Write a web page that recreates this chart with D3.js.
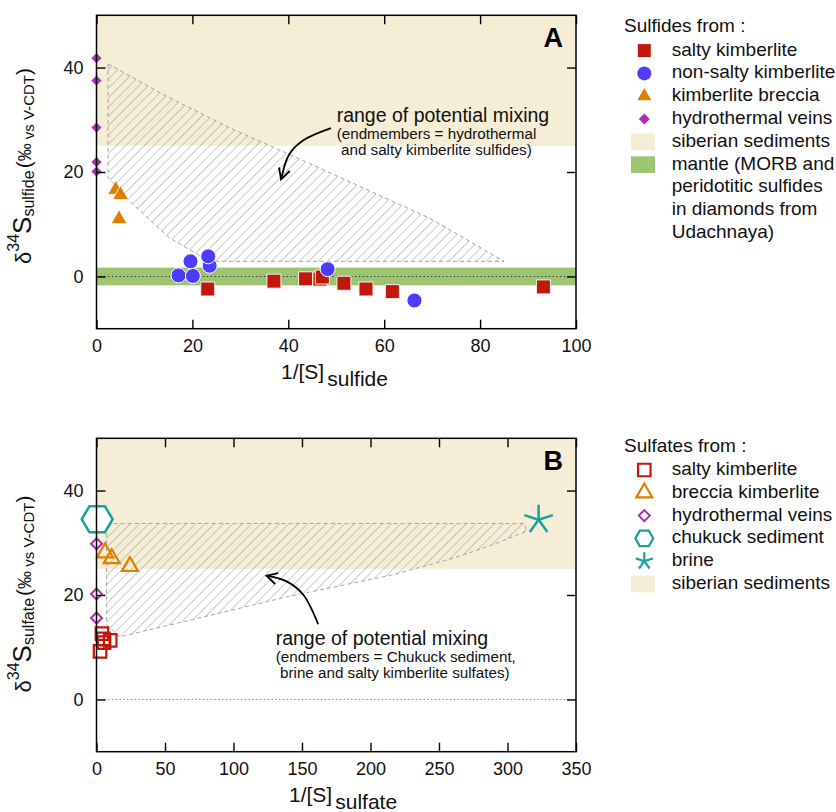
<!DOCTYPE html>
<html><head><meta charset="utf-8">
<script src="https://cdn.jsdelivr.net/npm/d3@7"></script>
<style>
body{margin:0;background:#fff}
svg{display:block;font-family:"Liberation Sans",Arial,Helvetica,sans-serif}
</style>
</head><body>
<svg id="chart" width="836" height="812"></svg>
<script>
// ---------------- DATA ----------------
const yDomain = [-10, 50];
const yTicks = [0, 20, 40];
const xTicksA = [0, 20, 40, 60, 80, 100];
const xTicksB = [0, 50, 100, 150, 200, 250, 300, 350];
const sedimentRange = [25, 50];
const mantleRange = [-1.7, 1.7];

// Panel A : sulfides  [1/[S], d34S]
const saltyKimberliteA = [[23.2,-2.4],[37.0,-0.9],[43.6,-0.45],[46.6,-0.5],[47.1,-0.1],[51.6,-1.3],[56.2,-2.4],[61.7,-2.9],[93.2,-2.0]];
const nonSaltyKimberliteA = [[17.1,0.2],[20.1,0.1],[19.6,2.9],[23.6,2.05],[23.3,3.85],[48.2,1.4],[66.3,-4.6]];
const kimberliteBrecciaA = [[4.0,16.6],[5.0,15.6],[4.7,11.0]];
const hydrothermalVeinsA = [[0,41.8],[0,37.5],[0,28.5],[0,21.9],[0,20.1]];
const mixingZoneA = [[2.4,40.7],[13.8,34.9],[27.7,28.5],[41.6,22.8],[55.5,17.0],[69.4,11.2],[85,2.9],[23.5,2.9],[15.2,7.4],[7.6,13.8],[2.4,18.9]];
const arrowA = [[48.9,28.4],[43.0,26.0],[40.2,23.4],[38.5,18.6]];

// Panel B : sulfates
const saltyKimberliteB = [[4.0,12.6],[5.0,11.6],[10.0,11.3],[5.5,10.9],[2.6,9.2]];
const brecciaKimberliteB = [[6.2,28.1],[11.1,27.0],[24.4,25.5]];
const hydrothermalVeinsB = [[0,29.8],[0,20.2],[0,15.6]];
const chukuckSedimentB = [[0.5,34.5]];
const brineB = [[322.7,34.4]];
const mixingZoneB = [[7.4,33.7],[312.5,33.7],[313.8,32.2],[290,29.7],[260,27.0],[215,23.8],[140,19.7],[70,15.3],[17.1,12.0],[7.4,14.3]];
const arrowB = [[161.8,14.4],[150.8,20.1],[138.7,22.6],[124.1,23.7]];

// ---------------- STYLE ----------------
const C = {
  red:"#c0180a", blue:"#4d3bff", orange:"#dd8000", purple:"#b02db5",
  teal:"#17a39b", sed:"#f6edd7", mantle:"#9dc470"
};
const FONT = '"Liberation Sans",Arial,Helvetica,sans-serif';
const L = 96.5, R = 576;

const svg = d3.select("#chart");
const defs = svg.append("defs");
const pat = defs.append("pattern").attr("id","hatch")
  .attr("patternUnits","userSpaceOnUse").attr("width",6.6).attr("height",6.6)
  .attr("patternTransform","rotate(45)");
pat.append("line").attr("x1",0).attr("y1",0).attr("x2",0).attr("y2",6.6)
  .attr("stroke","#8e8e8e").attr("stroke-width",0.9);

// ---------------- SYMBOLS ----------------
const sym = {
  square: s => `M${-s/2},${-s/2}h${s}v${s}h${-s}Z`,
  triangle: w => { const h=w*0.866; return `M0,${-2*h/3}L${w/2},${h/3}L${-w/2},${h/3}Z`; },
  diamond: r => `M0,${-r}L${r},0L0,${r}L${-r},0Z`,
  hexagon: (w,h) => `M${-w/2},0L${-w/4},${-h/2}L${w/4},${-h/2}L${w/2},0L${w/4},${h/2}L${-w/4},${h/2}Z`,
  star: r => d3.range(5).map(k=>{const a=(-90+k*72)*Math.PI/180;return `M0,0L${r*Math.cos(a)},${r*Math.sin(a)}`;}).join(""),
  circle: r => `M${r},0A${r},${r} 0 1,1 ${-r},0A${r},${r} 0 1,1 ${r},0Z`
};

function drawMarkers(g, data, x, y, path, fill, stroke, sw) {
  g.selectAll(null).data(data).enter().append("path")
    .attr("transform", d => `translate(${x(d[0])},${y(d[1])})`)
    .attr("d", path).attr("fill", fill).attr("stroke", stroke).attr("stroke-width", sw)
    .attr("stroke-linejoin","miter");
}

// ---------------- PANEL ----------------
function drawPanel(p) {
  const x = d3.scaleLinear().domain(p.xDomain).range([L, R]);
  const y = d3.scaleLinear().domain(yDomain).range([p.bottom, p.top]);
  const g = svg.append("g");

  // siberian sediments band
  g.append("rect").attr("x", x(p.xDomain[0])).attr("width", x(p.xDomain[1]) - x(p.xDomain[0]))
    .attr("y", y(sedimentRange[1])).attr("height", y(sedimentRange[0]) - y(sedimentRange[1]))
    .attr("fill", C.sed);
  // mantle band
  if (p.mantle) {
    g.append("rect").attr("x", x(p.xDomain[0])).attr("width", x(p.xDomain[1]) - x(p.xDomain[0]))
      .attr("y", y(mantleRange[1])).attr("height", y(mantleRange[0]) - y(mantleRange[1]))
      .attr("fill", C.mantle);
  }
  // zero line
  g.append("line").attr("x1", x(p.xDomain[0]) + 4).attr("x2", x(p.xDomain[1]) - 4)
    .attr("y1", y(0)).attr("y2", y(0))
    .attr("stroke", p.zeroColor).attr("stroke-width", 1).attr("stroke-dasharray", "1.2,2.6");

  // mixing zone
  const line = d3.line().x(d => x(d[0])).y(d => y(d[1]));
  g.append("path").attr("d", line(p.mix) + "Z")
    .attr("fill", "url(#hatch)").attr("stroke", "#a5a5a5").attr("stroke-width", 1)
    .attr("stroke-dasharray", "4,3");

  // markers
  p.markers(g, x, y);

  // arrow
  const curve = d3.line().x(d => x(d[0])).y(d => y(d[1])).curve(d3.curveCatmullRom.alpha(0.5));
  g.append("path").attr("d", curve(p.arrow)).attr("fill","none").attr("stroke","#000").attr("stroke-width",1.8);
  const n = p.arrow.length;
  const tip = [x(p.arrow[n-1][0]), y(p.arrow[n-1][1])];
  const prev = [x(p.arrow[n-2][0]), y(p.arrow[n-2][1])];
  const ang = Math.atan2(tip[1]-prev[1], tip[0]-prev[0]);
  const hl = 12, spread = 28*Math.PI/180;
  const head = [ang+Math.PI-spread, ang+Math.PI+spread].map(a => [tip[0]+hl*Math.cos(a), tip[1]+hl*Math.sin(a)]);
  g.append("path").attr("d", `M${head[0][0]},${head[0][1]}L${tip[0]},${tip[1]}L${head[1][0]},${head[1][1]}`)
    .attr("fill","none").attr("stroke","#000").attr("stroke-width",1.8);

  // annotation text
  const at = g.append("g").attr("fill","#111").attr("font-family",FONT);
  p.note.forEach(t => at.append("text").attr("x", t.x).attr("y", t.y).attr("font-size", t.s).text(t.text));

  // panel letter
  g.append("text").attr("x", R - 13).attr("y", p.top + 32).attr("text-anchor","end")
    .attr("font-size", 27).attr("font-weight","bold").attr("fill","#000").text(p.letter);

  // axes
  const styleAxis = a => {
    a.select(".domain").remove();
    a.attr("font-family", FONT).attr("font-size", 18);
    a.selectAll("line").attr("stroke","#000").attr("stroke-width",1.4);
    a.selectAll("text").attr("fill","#111");
  };
  g.append("g").attr("transform",`translate(0,${p.bottom})`)
    .call(d3.axisBottom(x).tickValues(p.xTicks).tickSize(-9).tickPadding(10.5)).call(styleAxis);
  g.append("g").attr("transform",`translate(0,${p.top})`)
    .call(d3.axisTop(x).tickValues(p.xTicks).tickSize(-9).tickFormat("")).call(styleAxis);
  g.append("g").attr("transform",`translate(${L},0)`)
    .call(d3.axisLeft(y).tickValues(yTicks).tickSize(-9).tickPadding(13)).call(styleAxis);
  g.append("g").attr("transform",`translate(${R},0)`)
    .call(d3.axisRight(y).tickValues(yTicks).tickSize(-9).tickFormat("")).call(styleAxis);

  // frame
  g.append("rect").attr("x", L).attr("y", p.top).attr("width", R - L).attr("height", p.bottom - p.top)
    .attr("fill","none").attr("stroke","#000").attr("stroke-width",1.5);

  // x title
  const xt = svg.append("text").attr("x", p.xTitleX).attr("y", p.bottom + 50.5)
    .attr("font-size", 21).attr("fill","#111");
  xt.append("tspan").text("1/[S]");
  xt.append("tspan").attr("dx", 3).attr("dy", 7).text(p.xSub);

  // y title
  const yt = svg.append("text").attr("transform", `translate(31,${p.yTitleCy}) rotate(-90)`)
    .attr("text-anchor","middle").attr("fill","#111");
  yt.append("tspan").attr("font-size",22).text("δ");
  yt.append("tspan").attr("font-size",16).attr("dy",-12).text("34");
  yt.append("tspan").attr("font-size",26).attr("dy",12).text("S");
  yt.append("tspan").attr("font-size",16).attr("dy",3).text(p.ySub);
  yt.append("tspan").attr("font-size",21).attr("dy",-3).attr("dx",2).text("(");
  yt.append("tspan").attr("font-size",18).text("‰");
  yt.append("tspan").attr("font-size",15).attr("dy",3).text(" vs V-CDT");
  yt.append("tspan").attr("font-size",21).attr("dy",-3).text(")");
}

drawPanel({
  top: 15.3, bottom: 328.7, xDomain: [0, 100], xTicks: xTicksA, mantle: true,
  zeroColor: "#222", mix: mixingZoneA, arrow: arrowA, letter: "A",
  xSub: "sulfide", ySub: "sulfide", xTitleX: 281, yTitleCy: 166,
  note: [
    {x: 336.7, y: 121.5, s: 19.5, text: "range of potential mixing"},
    {x: 336.7, y: 138.5, s: 15.2, text: "(endmembers = hydrothermal"},
    {x: 341, y: 154.5, s: 15.2, text: "and salty kimberlite sulfides)"}
  ],
  markers: (g, x, y) => {
    drawMarkers(g, saltyKimberliteA, x, y, sym.square(14), C.red, "#f4f0ec", 1);
    drawMarkers(g, nonSaltyKimberliteA, x, y, sym.circle(7.5), C.blue, "#fff", 1);
    drawMarkers(g, kimberliteBrecciaA, x, y, sym.triangle(16), C.orange, "#fff", 0.8);
    drawMarkers(g, hydrothermalVeinsA, x, y, sym.diamond(5.5), C.purple, "#fff", 0.8);
  }
});

drawPanel({
  top: 438.3, bottom: 751.7, xDomain: [0, 350], xTicks: xTicksB, mantle: false,
  zeroColor: "#777", mix: mixingZoneB, arrow: arrowB, letter: "B",
  xSub: "sulfate", ySub: "sulfate", xTitleX: 289, yTitleCy: 594,
  note: [
    {x: 275.7, y: 644.5, s: 19.5, text: "range of potential mixing"},
    {x: 275.7, y: 661.7, s: 15.2, text: "(endmembers = Chukuck sediment,"},
    {x: 280, y: 678, s: 15.2, text: "brine and salty kimberlite sulfates)"}
  ],
  markers: (g, x, y) => {
    drawMarkers(g, saltyKimberliteB, x, y, sym.square(12.5), "none", C.red, 2.2);
    drawMarkers(g, brecciaKimberliteB, x, y, sym.triangle(16), "none", C.orange, 2.2);
    drawMarkers(g, hydrothermalVeinsB, x, y, sym.diamond(5.5), "#fff", C.purple, 2);
    drawMarkers(g, chukuckSedimentB, x, y, sym.hexagon(31, 26), "#fff", C.teal, 2.5);
    drawMarkers(g, brineB, x, y, sym.star(15), "none", C.teal, 2.5);
  }
});

// ---------------- LEGENDS ----------------
const legendA = [
  {lines:["salty kimberlite"], d: sym.square(13), fill: C.red, stroke: "none", sw: 0},
  {lines:["non-salty kimberlite"], d: sym.circle(7), fill: C.blue, stroke: "none", sw: 0},
  {lines:["kimberlite breccia"], d: sym.triangle(14), fill: C.orange, stroke: "none", sw: 0},
  {lines:["hydrothermal veins"], d: sym.diamond(5.5), fill: C.purple, stroke: "none", sw: 0},
  {lines:["siberian sediments"], rect: C.sed},
  {lines:["mantle (MORB and","peridotitic sulfides","in diamonds from","Udachnaya)"], rect: C.mantle}
];
const legendB = [
  {lines:["salty kimberlite"], d: sym.square(12.5), fill: "none", stroke: C.red, sw: 2.2},
  {lines:["breccia kimberlite"], d: sym.triangle(16), fill: "none", stroke: C.orange, sw: 2.2},
  {lines:["hydrothermal veins"], d: sym.diamond(5.5), fill: "none", stroke: C.purple, sw: 2},
  {lines:["chukuck sediment"], d: sym.hexagon(18, 15.5), fill: "none", stroke: C.teal, sw: 2.2},
  {lines:["brine"], d: sym.star(9), fill: "none", stroke: C.teal, sw: 2.2},
  {lines:["siberian sediments"], rect: C.sed}
];

function drawLegend(title, titleY, items) {
  const g = svg.append("g").attr("font-family", FONT).attr("font-size", 19).attr("fill","#111");
  g.append("text").attr("x", 624).attr("y", titleY).text(title);
  let base = titleY + 23.3;
  items.forEach(it => {
    const cy = base - 5;
    if (it.rect) {
      g.append("rect").attr("x", 631).attr("y", cy - 8.3).attr("width", 24).attr("height", 16.6).attr("fill", it.rect);
    } else {
      g.append("path").attr("transform", `translate(644.3,${cy})`).attr("d", it.d)
        .attr("fill", it.fill).attr("stroke", it.stroke).attr("stroke-width", it.sw);
    }
    it.lines.forEach((t, i) => {
      g.append("text").attr("x", 671.7).attr("y", base + i * 22.8).text(t);
    });
    base += it.lines.length * 22.8;
  });
}
drawLegend("Sulfides from :", 32.3, legendA);
drawLegend("Sulfates from :", 451.7, legendB);
</script>
</body></html>
